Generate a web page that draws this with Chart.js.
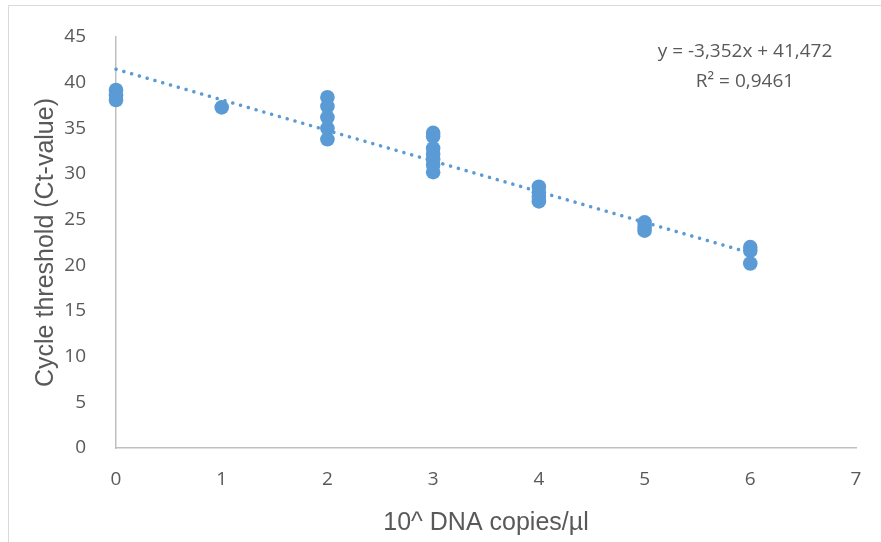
<!DOCTYPE html>
<html>
<head>
<meta charset="utf-8">
<script src="https://cdn.jsdelivr.net/npm/chart.js@4/dist/chart.umd.min.js"></script>
<style>
  html, body { margin: 0; padding: 0; background: #fff; }
  #wrap { width: 881px; height: 542px; position: relative; }
</style>
</head>
<body>
<div id="wrap"><canvas id="myChart" width="881" height="542"></canvas></div>
<script>
// dilution level (10^x copies/µl) and measured Ct values
const dilution = [0, 0, 0, 1, 2, 2, 2, 2, 2, 3, 3, 3, 3, 3, 3, 3, 4, 4, 4, 4, 5, 5, 5, 6, 6, 6]
const ctValues = [39.2, 38.6, 38.1, 37.3, 38.4, 37.4, 36.2, 35.0, 33.8,
	34.5, 34.1, 32.8, 32.2, 31.6, 31.0, 30.2, 28.6, 28.0, 27.5, 27.0,
	24.7, 24.2, 23.8, 22.0, 21.6, 20.2]

// linear trendline, y = -3.352x + 41.472
const trendX = [0, 6]
const trendY = [41.472, 21.36]
const equationLines = ['y = -3,352x + 41,472', 'R² = 0,9461']

const xTicks = [0, 1, 2, 3, 4, 5, 6, 7]
const yTicks = [0, 5, 10, 15, 20, 25, 30, 35, 40, 45]

const blue = '#5B9BD5'
const textGrey = '#595959'
const axisGrey = '#BFBFBF'

const frame = {
	id: 'frame',
	beforeDraw(chart) {
		const c = chart.ctx
		c.save()
		c.strokeStyle = '#D9D9D9'
		c.lineWidth = 1
		c.beginPath()
		c.moveTo(8.5, 542)
		c.lineTo(8.5, 5.5)
		c.lineTo(881, 5.5)
		c.stroke()
		c.restore()
	},
	afterDraw(chart) {
		const c = chart.ctx
		c.save()
		c.fillStyle = textGrey
		c.font = '19px "Open Sans"'
		c.textAlign = 'center'
		c.textBaseline = 'middle'
		c.fillText(equationLines[0], 745, 52)
		c.fillText(equationLines[1], 745, 82)
		c.restore()
	}
}

const ctx = document.getElementById('myChart').getContext('2d')
new Chart(ctx, {
	type: 'scatter',
	data: {
		datasets: [{
			label: 'Trendline',
			data: trendX.map((x, i) => ({ x: x, y: trendY[i] })),
			showLine: true,
			borderColor: blue,
			borderWidth: 3.5,
			borderDash: [0.1, 8],
			borderCapStyle: 'round',
			pointRadius: 0,
			clip: false,
			order: 0
		}, {
			label: 'Ct',
			data: dilution.map((x, i) => ({ x: x, y: ctValues[i] })),
			backgroundColor: blue,
			borderColor: blue,
			borderWidth: 0,
			pointRadius: 7.3,
			clip: false,
			order: 1
		}]
	},
	options: {
		responsive: false,
		animation: false,
		layout: { padding: { top: 37, right: 25, left: 27, bottom: 0 } },
		plugins: {
			legend: { display: false },
			tooltip: { enabled: false }
		},
		scales: {
			x: {
				type: 'linear',
				min: 0,
				max: 7,
				afterBuildTicks: axis => { axis.ticks = xTicks.map(v => ({ value: v })) },
				afterFit: axis => { axis.height = 94 },
				grid: { display: false },
				border: { display: true, color: axisGrey, width: 1.5 },
				ticks: { color: textGrey, font: { family: 'Open Sans', size: 19 }, padding: 12 },
				title: {
					display: true,
					text: '10^ DNA copies/µl',
					color: textGrey,
					font: { family: 'Liberation Sans', size: 25 },
					padding: { top: 4 }
				}
			},
			y: {
				min: 0,
				max: 45,
				afterBuildTicks: axis => { axis.ticks = yTicks.map(v => ({ value: v })) },
				afterFit: axis => { axis.width = 89 },
				grid: { display: false },
				border: { display: true, color: axisGrey, width: 1.5 },
				ticks: { color: textGrey, font: { family: 'Open Sans', size: 19 }, padding: 22 },
				title: {
					display: true,
					text: 'Cycle threshold (Ct-value)',
					color: textGrey,
					font: { family: 'Liberation Sans', size: 25 },
					padding: { bottom: 0 }
				}
			}
		}
	},
	plugins: [frame]
})
</script>
</body>
</html>
